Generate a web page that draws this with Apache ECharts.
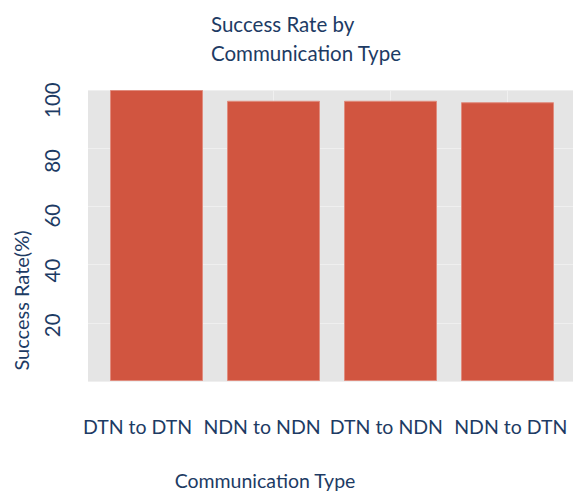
<!DOCTYPE html>
<html><head><meta charset="utf-8">
<script src="https://cdn.jsdelivr.net/npm/echarts@6/dist/echarts.min.js"></script>
<style>html,body{margin:0;padding:0;background:#fff}#c{width:573px;height:491px}</style>
</head><body><div id="c"></div>
<script>
const categories = ['DTN to DTN', 'NDN to NDN', 'DTN to NDN', 'NDN to DTN'];
const successRate = [100, 96.3, 96.3, 95.8];
const yTicks = [20, 40, 60, 80, 100];
const titleText = 'Success Rate by\nCommunication Type';
const xTitle = 'Communication Type';
const yTitle = 'Success Rate(%)';

const FONT = 'Lato';
const TXT = '#1d3b64';
const chart = echarts.init(document.getElementById('c'), null, {renderer: 'svg'});
const hidden = {show: false};
chart.setOption({
  animation: false,
  textStyle: {fontFamily: FONT},
  title: {text: titleText, left: 211, top: 9, padding: 0,
    textStyle: {fontFamily: FONT, fontSize: 20.5, fontWeight: 'normal', color: TXT, lineHeight: 29}},
  grid: [
    {left: 88, top: 90, width: 488, height: 291, show: true, backgroundColor: '#e5e5e5', borderWidth: 0},
    {left: 156.5, top: 90, width: 351, height: 291},
    {left: 88, top: 118, width: 10, height: 274},
    {left: 75.4, top: 90, width: 499.2, height: 291}
  ],
  xAxis: [
    {gridIndex: 0, type: 'value', show: false},
    {gridIndex: 1, type: 'value', min: 0, max: categories.length - 1, interval: 1,
      axisLine: hidden, axisTick: hidden, axisLabel: hidden,
      splitLine: {show: true, lineStyle: {color: '#f0f0f0', width: 1}}},
    {gridIndex: 2, type: 'value', show: false},
    {gridIndex: 3, type: 'category', data: categories, axisLine: hidden, axisTick: hidden,
      splitLine: hidden,
      axisLabel: {show: true, interval: 0, margin: 35, fontFamily: FONT, fontSize: 19.5, color: TXT}}
  ],
  yAxis: [
    {gridIndex: 0, type: 'value', min: 0, max: 100, interval: 20,
      axisLine: hidden, axisTick: hidden, axisLabel: hidden,
      splitLine: {show: true, lineStyle: {color: '#efefef', width: 1}}},
    {gridIndex: 1, type: 'value', min: 0, max: 100, show: false},
    {gridIndex: 2, type: 'value', min: 0, max: 100, interval: 20,
      axisLine: hidden, axisTick: hidden, splitLine: hidden,
      axisLabel: {show: true, rotate: 90, align: 'left', margin: 26, fontFamily: FONT, fontSize: 20.5, color: TXT,
        formatter: v => yTicks.includes(v) ? String(v) : ''}},
    {gridIndex: 3, type: 'value', show: false}
  ],
  series: [{
    type: 'bar', xAxisIndex: 1, yAxisIndex: 1, clip: false,
    barWidth: 93,
    data: successRate.map((v, i) => [i, v]),
    itemStyle: {color: '#d15540', borderColor: '#e08c7e', borderWidth: 1}
  }],
  graphic: [
    {type: 'text', x: 265, y: 480, style: {text: xTitle, fontFamily: FONT, fontSize: 19.5, fill: TXT, textAlign: 'center', textVerticalAlign: 'middle'}},
    {type: 'text', x: 21, y: 300.5, rotation: Math.PI / 2, style: {text: yTitle, fontFamily: FONT, fontSize: 20, fill: TXT, textAlign: 'center', textVerticalAlign: 'middle'}}
  ]
});
</script></body></html>
